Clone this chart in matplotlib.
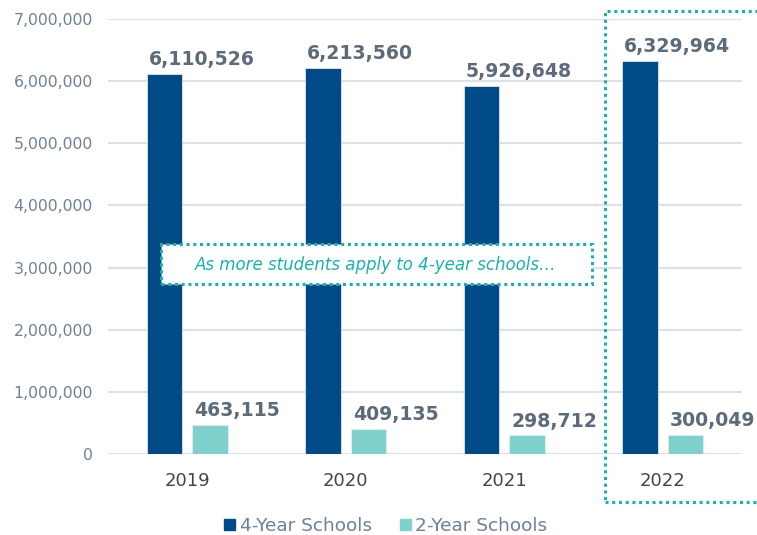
import matplotlib
matplotlib.use("Agg")
import matplotlib.pyplot as plt
import numpy as np
from matplotlib.patches import Patch, Rectangle
from matplotlib.ticker import FuncFormatter

plt.rcParams['font.family'] = ['DejaVu Sans']

# data
years = ["2019", "2020", "2021", "2022"]
four_year = [6110526, 6213560, 5926648, 6329964]
two_year = [463115, 409135, 298712, 300049]

dark_blue = "#004A87"
light_teal = "#80D0CD"
teal = "#19B3AE"
tick_grey = "#6E8195"
label_grey = "#5B6B7C"

W, H = 757, 535
fig = plt.figure(figsize=(W / 100, H / 100), dpi=100)
ax = fig.add_axes([108 / W, 1 - 454 / H, 634 / W, 435 / H])

x = np.arange(len(years))
width = 0.224
offset = 0.144

b4 = ax.bar(x - offset, four_year, width, color=dark_blue, edgecolor="#DDE6EE",
            linewidth=0.6, zorder=3)
b2 = ax.bar(x + offset, two_year, width, color=light_teal, edgecolor="#DDF2F1",
            linewidth=0.6, zorder=3)

# value labels sit roughly left-aligned above each bar
for bars, vals in [(b4, four_year), (b2, two_year)]:
    for rect, v in zip(bars, vals):
        ax.annotate(f"{v:,}", (rect.get_x(), v), xytext=(1.5, 3.5),
                    textcoords="offset points", ha="left", va="bottom",
                    fontsize=13.6, fontweight="bold", color=label_grey, zorder=4)

ax.set_xlim(-0.5, 3.5)
ax.set_ylim(0, 7000000)
ax.set_yticks(np.arange(0, 7000001, 1000000))
ax.yaxis.set_major_formatter(FuncFormatter(lambda v, p: f"{int(v):,}"))
ax.set_xticks(x)
ax.set_xticklabels(years)

ax.tick_params(axis="y", length=0, pad=11, labelsize=11.3, labelcolor=tick_grey)
ax.tick_params(axis="x", length=0, pad=13, labelsize=13, labelcolor="#3F4650")
ax.grid(axis="y", color="#DCE1E6", linewidth=1.5, zorder=0)
for s in ax.spines.values():
    s.set_visible(False)

# legend
handles = [Patch(color=dark_blue, label="4-Year Schools"),
           Patch(color=light_teal, label="2-Year Schools")]
leg = fig.legend(handles=handles, loc="center", bbox_to_anchor=(386 / W, 1 - 526 / H),
                 ncol=2, frameon=False, fontsize=13.3, handlelength=0.6,
                 handleheight=0.6, handletextpad=0.25, columnspacing=1.5,
                 borderaxespad=0, borderpad=0)
for t in leg.get_texts():
    t.set_color(tick_grey)

# callout box across the first three years
fig.patches.append(Rectangle((161 / W, 1 - 284 / H), 431 / W, 40 / H,
                             transform=fig.transFigure, facecolor="white",
                             edgecolor=teal, linestyle=(0, (1, 1.2)), linewidth=2.2,
                             zorder=5))
fig.text(376 / W, 1 - 265 / H, "As more students apply to 4-year schools…",
         ha="center", va="center", fontsize=12, style="italic", color=teal, zorder=6)

# dotted highlight around 2022
fig.patches.append(Rectangle((605 / W, 1 - 502 / H), 160 / W, 491 / H,
                             transform=fig.transFigure, facecolor="none",
                             edgecolor=teal, linestyle=(0, (1, 1.2)), linewidth=2.2,
                             zorder=5))

fig.savefig("out.png", dpi=100)
